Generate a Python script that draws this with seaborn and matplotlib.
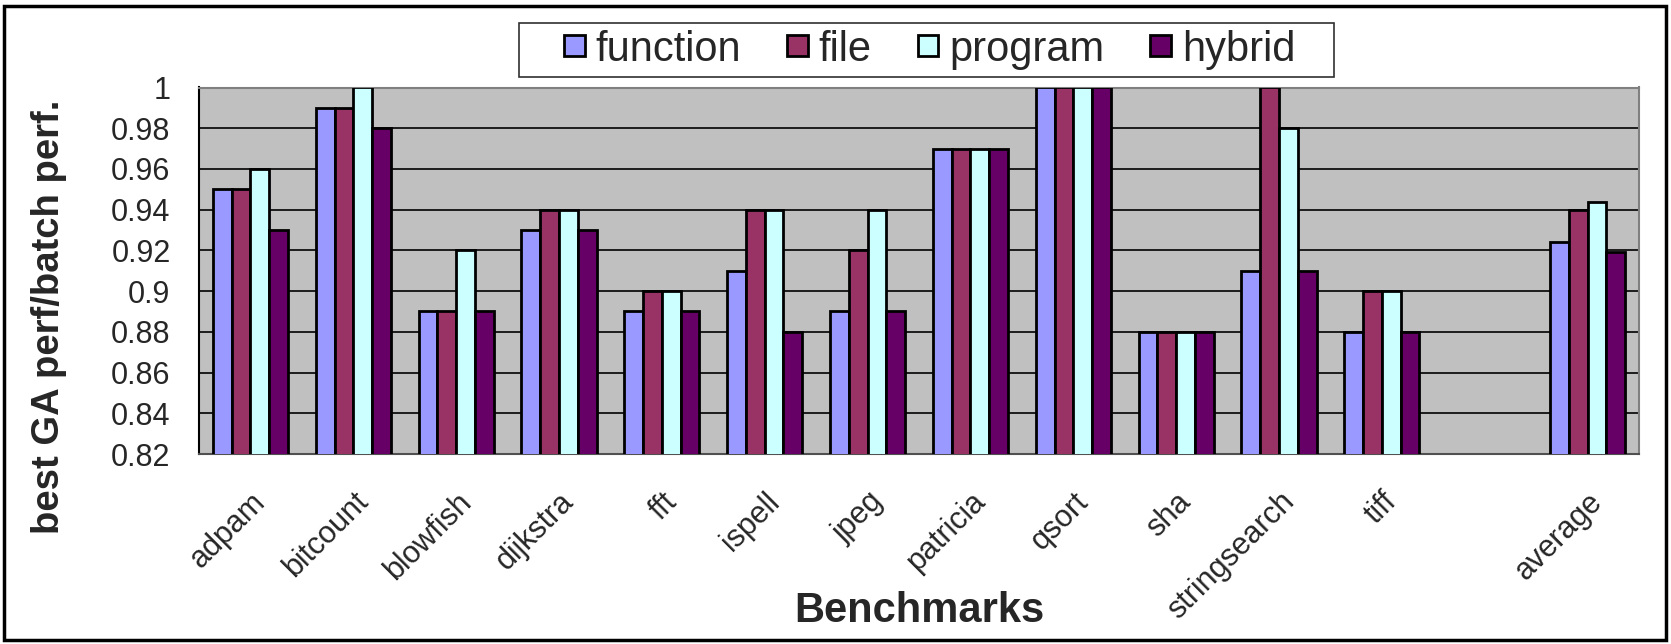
import matplotlib
matplotlib.use("Agg")
import matplotlib.pyplot as plt
from matplotlib.patches import Rectangle, Patch
from matplotlib.ticker import FixedLocator, FuncFormatter
import seaborn as sns
import pandas as pd
import numpy as np

# Benchmarks (a blank slot separates the suite from the average)
benchmarks = ["adpam", "bitcount", "blowfish", "dijkstra", "fft", "ispell", "jpeg",
              "patricia", "qsort", "sha", "stringsearch", "tiff", " ", "average"]

series = ["function", "file", "program", "hybrid"]

function_vals = [0.95, 0.99, 0.89, 0.93, 0.89, 0.91, 0.89, 0.97, 1.00, 0.88, 0.91, 0.88, 0.924]
file_vals     = [0.95, 0.99, 0.89, 0.94, 0.90, 0.94, 0.92, 0.97, 1.00, 0.88, 1.00, 0.90, 0.940]
program_vals  = [0.96, 1.00, 0.92, 0.94, 0.90, 0.94, 0.94, 0.97, 1.00, 0.88, 0.98, 0.90, 0.944]
hybrid_vals   = [0.93, 0.98, 0.89, 0.93, 0.89, 0.88, 0.89, 0.97, 1.00, 0.88, 0.91, 0.88, 0.919]

colors = ["#9999FF", "#993366", "#CCFFFF", "#660066"]

y_ticks = [0.82, 0.84, 0.86, 0.88, 0.90, 0.92, 0.94, 0.96, 0.98, 1.00]

# long-form table: blank slot carries no data
data_labels = [b for b in benchmarks if b.strip()]
rows = []
for name, vals in zip(series, [function_vals, file_vals, program_vals, hybrid_vals]):
    for b, v in zip(data_labels, vals):
        rows.append({"benchmark": b, "config": name, "value": v})
df = pd.DataFrame(rows)

sns.set_style("white")
plt.rcParams["font.family"] = ["Liberation Sans", "DejaVu Sans"]

W, H = 1671, 644
fig = plt.figure(figsize=(W / 100, H / 100), dpi=100)

# plot area in pixels: left, top, right, bottom
pl, pt, pr, pb = 199, 87.5, 1639, 454
ax = fig.add_axes([pl / W, 1 - pb / H, (pr - pl) / W, (pb - pt) / H])

sns.barplot(data=df, x="benchmark", y="value", hue="config", order=benchmarks,
            hue_order=series, palette=colors, width=0.73, gap=0,
            edgecolor="black", linewidth=2, saturation=1, legend=False, ax=ax, zorder=3)

ax.set_facecolor("#C0C0C0")
ax.set_ylim(0.82, 1.0)
ax.set_xlim(-0.5, len(benchmarks) - 0.5)
ax.yaxis.set_major_locator(FixedLocator(y_ticks))
ax.yaxis.set_major_formatter(FuncFormatter(lambda v, p: f"{v:g}"))
ax.grid(axis="y", color="black", linewidth=1.2, zorder=1)
ax.set_axisbelow(True)

# category labels at centres, tick marks at boundaries
ax.set_xticks(range(len(benchmarks)))
ax.set_xticklabels(benchmarks, rotation=45, ha="right", va="top",
                   rotation_mode="anchor", fontsize=22)
ax.set_xticks(np.arange(-0.5, len(benchmarks)), minor=True)
ax.tick_params(axis="x", which="major", length=0, pad=23.5)
ax.tick_params(axis="x", which="minor", length=7, width=1.5, color="#505050", direction="out")
ax.tick_params(axis="y", which="major", length=6.5, width=1.5, color="black",
               labelsize=22, direction="out", pad=14)

for side in ["top", "right"]:
    ax.spines[side].set_color("#808080")
    ax.spines[side].set_linewidth(1.5)
ax.spines["left"].set_color("black")
ax.spines["left"].set_linewidth(1.5)
ax.spines["bottom"].set_color("#505050")
ax.spines["bottom"].set_linewidth(1.5)

ax.set_xlabel("Benchmarks", fontsize=30, fontweight="bold")
ax.xaxis.set_label_coords(0.5, -0.428)
ax.xaxis.label.set_va("center")
ax.set_ylabel("best GA perf/batch perf.", fontsize=27.5, fontweight="bold")
ax.yaxis.set_label_coords(-0.104, 0.374)
ax.yaxis.label.set_va("center")

# legend box and entries
lx0, ly0, lx1, ly1 = 519, 22.7, 1334, 76.7
fig.patches.append(Rectangle((lx0 / W, 1 - ly1 / H), (lx1 - lx0) / W, (ly1 - ly0) / H,
                             transform=fig.transFigure, facecolor="white",
                             edgecolor="#303030", linewidth=1.2, zorder=0))
handles = [Patch(facecolor=c, edgecolor="black", linewidth=2) for c in colors]
leg = fig.legend(handles, series, loc="center left",
                 bbox_to_anchor=(564 / W, 1 - (ly0 + ly1) / 2 / H),
                 ncol=4, fontsize=30, frameon=False,
                 handlelength=0.5, handleheight=0.39, handletextpad=0.26,
                 columnspacing=1.1, borderpad=0, borderaxespad=0)

# outer chart border
fig.patches.append(Rectangle((4 / W, 1 - 640 / H), 1662 / W, 634 / H, transform=fig.transFigure,
                             fill=False, edgecolor="black", linewidth=2.5))

fig.savefig("out.png", dpi=100, facecolor="white")
